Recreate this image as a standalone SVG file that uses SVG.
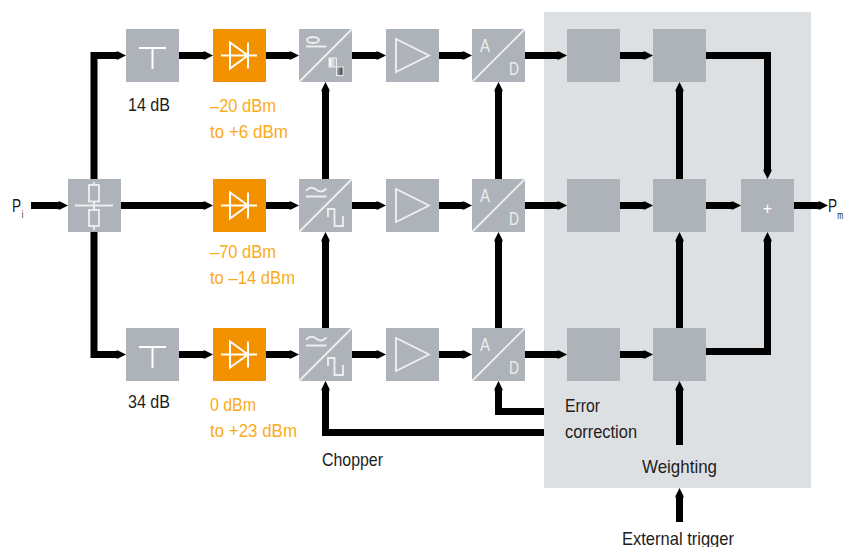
<svg xmlns="http://www.w3.org/2000/svg" width="844" height="547" viewBox="0 0 844 547">
<style>
text{font-family:"Liberation Sans",sans-serif;font-size:19px;fill:#1d1d1b}
.o{fill:#fbab18}
.box{fill:#adb3b8}
.dio{fill:#f39200}
.g{fill:none;stroke:#fff;stroke-width:2}
.l{fill:none;stroke:#eceeef;stroke-width:1.900}
.ad{fill:#eceeef;font-size:19px}
.c{fill:none;stroke:#000;stroke-width:7;marker-end:url(#h)}
.sub{font-size:10px}
</style>
<defs>
<marker id="h" markerUnits="userSpaceOnUse" markerWidth="11" markerHeight="9" refX="1" refY="4.5" orient="auto"><path d="M0,0.800L1,0.500L2,0.500L10,4.500L2,8.500L1,8.500L0,8.200Z" fill="#000"/></marker>
<linearGradient id="g1" x1="0" x2="1" y1="0" y2="0"><stop offset="0" stop-color="#fff"/><stop offset="1" stop-color="#adb3b8"/></linearGradient>
<linearGradient id="g2" x1="0" x2="1" y1="0" y2="0"><stop offset="0" stop-color="#adb3b8"/><stop offset="1" stop-color="#333"/></linearGradient>
<g id="diode" class="g"><path d="M8,26.5H44M17,13.5V39.5L35,26.5ZM35,13.5V39.5"/></g>
<g id="tee" class="g"><path d="M13,19H40M26.5,19V40"/></g>
<g id="amp" class="l"><path d="M10,10V43L43,26.5Z"/></g>
<path id="diag" class="l" d="M0,53L53,0"/>
<g id="acdc" class="l"><path d="M7,12C10,8 14,8 17,10.500S24,13 27.500,9.500M7,17.500H27.500M29,38V30H35.500V47H44V37"/></g>
</defs>

<rect id="panel" x="544" y="12" width="267" height="476" fill="#dde0e3"/>

<g id="connectors">
<path class="c" d="M31,205.500H59"/>
<path class="c" d="M94,179V55.500H117"/>
<path class="c" d="M94,232V354.500H117"/>
<path class="c" d="M121,205.500H204"/>
<path class="c" d="M179,55.500H204"/>
<path class="c" d="M179,354.500H204"/>
<path class="c" d="M266,55.500H290"/>
<path class="c" d="M266,205.500H290"/>
<path class="c" d="M266,354.500H290"/>
<path class="c" d="M352,55.500H377"/>
<path class="c" d="M352,205.500H377"/>
<path class="c" d="M352,354.500H377"/>
<path class="c" d="M439,55.500H463"/>
<path class="c" d="M439,205.500H463"/>
<path class="c" d="M439,354.500H463"/>
<path class="c" d="M525,55.500H558"/>
<path class="c" d="M525,205.500H558"/>
<path class="c" d="M525,354.500H558"/>
<path class="c" d="M620,55.500H644"/>
<path class="c" d="M620,205.500H644"/>
<path class="c" d="M620,354.500H644"/>
<path class="c" d="M706,205.500H732"/>
<path class="c" d="M794,205.500H819"/>
<path class="c" d="M706,55.500H767.500V170"/>
<path class="c" d="M706,351.500H767.500V241"/>
<path class="c" d="M325.500,179V91"/>
<path class="c" d="M325.500,328V241"/>
<path class="c" d="M498.500,179V91"/>
<path class="c" d="M498.500,328V241"/>
<path class="c" d="M679.500,179V91"/>
<path class="c" d="M679.500,328V241"/>
<path class="c" d="M679.500,445V390"/>
<path class="c" d="M679.500,522V497"/>
<path class="c" d="M544,432.500H325.500V390"/>
<path class="c" d="M544,411.500H498.500V390"/>
</g>

<g id="split" transform="translate(68,179)"><rect class="box" width="53" height="53"/><path class="l" d="M7,26.500H45M26,3V6M26,22.500V31M26,47V51"/><rect class="l" x="21" y="6" width="10" height="16.500"/><rect class="l" x="21" y="31" width="10" height="16"/></g>

<g id="att1" transform="translate(126,29)"><rect class="box" width="53" height="53"/><use href="#tee"/></g>
<g id="att2" transform="translate(126,328)"><rect class="box" width="53" height="53"/><use href="#tee"/></g>

<g id="det1" transform="translate(213,29)"><rect class="dio" width="53" height="53"/><use href="#diode"/></g>
<g id="det2" transform="translate(213,179)"><rect class="dio" width="53" height="53"/><use href="#diode"/></g>
<g id="det3" transform="translate(213,328)"><rect class="dio" width="53" height="53"/><use href="#diode"/></g>

<g id="chop1" transform="translate(299,29)"><rect class="box" width="53" height="53"/><use href="#diag"/><ellipse class="l" cx="14" cy="11" rx="6" ry="3"/><path class="l" d="M7,17.500H27.500"/><rect x="30" y="29" width="7.500" height="9" fill="url(#g1)" stroke="#eceeef" stroke-width="1"/><rect x="37.500" y="38" width="6.500" height="8.500" fill="url(#g2)" stroke="#eceeef" stroke-width="1"/></g>
<g id="chop2" transform="translate(299,179)"><rect class="box" width="53" height="53"/><use href="#diag"/><use href="#acdc"/></g>
<g id="chop3" transform="translate(299,328)"><rect class="box" width="53" height="53"/><use href="#diag"/><use href="#acdc"/></g>

<g id="amp1" transform="translate(386,29)"><rect class="box" width="53" height="53"/><use href="#amp"/></g>
<g id="amp2" transform="translate(386,179)"><rect class="box" width="53" height="53"/><use href="#amp"/></g>
<g id="amp3" transform="translate(386,328)"><rect class="box" width="53" height="53"/><use href="#amp"/></g>

<g id="adc1" transform="translate(472,29)"><rect class="box" width="53" height="53"/><use href="#diag"/><text class="ad" x="8" y="23" textLength="10" lengthAdjust="spacingAndGlyphs">A</text><text class="ad" x="37" y="46" textLength="10" lengthAdjust="spacingAndGlyphs">D</text></g>
<g id="adc2" transform="translate(472,179)"><rect class="box" width="53" height="53"/><use href="#diag"/><text class="ad" x="8" y="23" textLength="10" lengthAdjust="spacingAndGlyphs">A</text><text class="ad" x="37" y="46" textLength="10" lengthAdjust="spacingAndGlyphs">D</text></g>
<g id="adc3" transform="translate(472,328)"><rect class="box" width="53" height="53"/><use href="#diag"/><text class="ad" x="8" y="23" textLength="10" lengthAdjust="spacingAndGlyphs">A</text><text class="ad" x="37" y="46" textLength="10" lengthAdjust="spacingAndGlyphs">D</text></g>

<g id="err1"><rect class="box" x="567" y="29" width="53" height="53"/></g>
<g id="err2"><rect class="box" x="567" y="179" width="53" height="53"/></g>
<g id="err3"><rect class="box" x="567" y="328" width="53" height="53"/></g>
<g id="wgt1"><rect class="box" x="653" y="29" width="53" height="53"/></g>
<g id="wgt2"><rect class="box" x="653" y="179" width="53" height="53"/></g>
<g id="wgt3"><rect class="box" x="653" y="328" width="53" height="53"/></g>
<g id="sum"><rect class="box" x="741" y="179" width="53" height="53"/><text x="767.500" y="214" text-anchor="middle" style="fill:#fff;font-size:16px">+</text></g>

<g id="labels">
<text transform="translate(12,212) scale(.72,1)">P<tspan class="sub" dx="1" dy="6">i</tspan></text>
<text transform="translate(828,212) scale(.72,1)">P<tspan class="sub" dx="0" dy="7">m</tspan></text>
<text x="128" y="111" textLength="42" lengthAdjust="spacingAndGlyphs">14 dB</text>
<text x="128" y="408" textLength="42" lengthAdjust="spacingAndGlyphs">34 dB</text>
<text class="o" x="210" y="112" textLength="66" lengthAdjust="spacingAndGlyphs">–20 dBm</text>
<text class="o" x="210" y="138" textLength="78" lengthAdjust="spacingAndGlyphs">to +6 dBm</text>
<text class="o" x="210" y="258" textLength="66" lengthAdjust="spacingAndGlyphs">–70 dBm</text>
<text class="o" x="210" y="284" textLength="85" lengthAdjust="spacingAndGlyphs">to –14 dBm</text>
<text class="o" x="210" y="411" textLength="46" lengthAdjust="spacingAndGlyphs">0 dBm</text>
<text class="o" x="210" y="437" textLength="87" lengthAdjust="spacingAndGlyphs">to +23 dBm</text>
<text x="565" y="412" textLength="35" lengthAdjust="spacingAndGlyphs">Error</text>
<text x="565" y="438" textLength="72" lengthAdjust="spacingAndGlyphs">correction</text>
<text x="322" y="466" textLength="61" lengthAdjust="spacingAndGlyphs">Chopper</text>
<text x="642" y="473" textLength="75" lengthAdjust="spacingAndGlyphs">Weighting</text>
<text x="622" y="545" textLength="112" lengthAdjust="spacingAndGlyphs">External trigger</text>
</g>
</svg>
